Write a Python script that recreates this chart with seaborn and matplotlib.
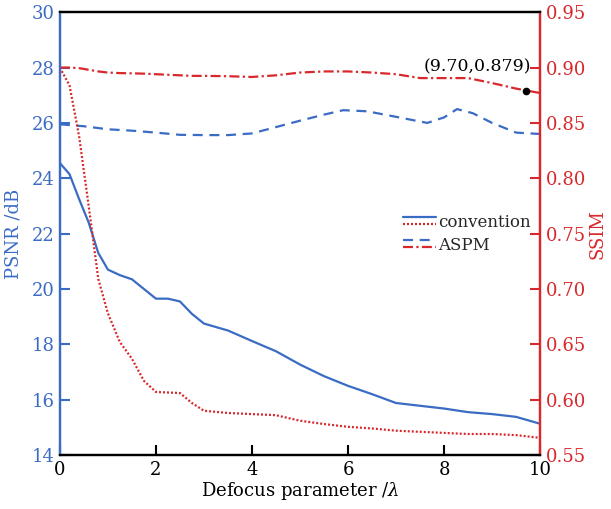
import numpy as np
import pandas as pd
import matplotlib
matplotlib.use("Agg")
import matplotlib.pyplot as plt
from matplotlib.lines import Line2D
from matplotlib.legend_handler import HandlerBase
import seaborn as sns

# Defocus parameter grid shared by three of the curves
defocus = [0, 0.2, 0.4, 0.6, 0.8, 1.0, 1.25, 1.5, 1.75, 2.0, 2.25, 2.5, 2.75, 3.0,
           3.5, 4.0, 4.5, 5.0, 5.5, 6.0, 6.5, 7.0, 7.5, 8.0, 8.5, 9.0, 9.5, 10.0]

psnr_convention = [24.55, 24.15, 23.25, 22.4, 21.3, 20.7, 20.5, 20.35, 20.0, 19.65,
                   19.65, 19.55, 19.1, 18.75, 18.5, 18.12, 17.75, 17.27, 16.85, 16.5,
                   16.2, 15.88, 15.78, 15.68, 15.55, 15.48, 15.38, 15.13]

ssim_convention = [0.900, 0.884, 0.838, 0.775, 0.709, 0.678, 0.652, 0.637, 0.617, 0.607,
                   0.6065, 0.606, 0.597, 0.590, 0.588, 0.587, 0.586, 0.581, 0.578, 0.5755,
                   0.574, 0.572, 0.571, 0.570, 0.569, 0.569, 0.568, 0.5655]

ssim_aspm = [0.900, 0.900, 0.8995, 0.898, 0.8965, 0.8955, 0.895, 0.8948, 0.8945, 0.894,
             0.8935, 0.893, 0.8925, 0.8925, 0.8922, 0.8915, 0.893, 0.8955, 0.8965, 0.8965,
             0.8955, 0.894, 0.8905, 0.8905, 0.8905, 0.886, 0.881, 0.877]

defocus_aspm_psnr = [0, 0.5, 1.0, 1.5, 2.0, 2.5, 3.0, 3.5, 4.0, 4.5, 5.0, 5.5, 5.9, 6.4,
                     7.0, 7.65, 8.0, 8.27, 8.6, 9.0, 9.5, 10.0]
psnr_aspm = [25.95, 25.88, 25.77, 25.72, 25.65, 25.57, 25.56, 25.56, 25.62, 25.85, 26.08,
             26.3, 26.46, 26.42, 26.22, 26.0, 26.2, 26.5, 26.35, 26.0, 25.65, 25.6]

marker_point = (9.70, 0.879)

BLUE = "#3b6cc4"
RED = "#d9282c"

sns.set_style("ticks")
plt.rcParams["font.family"] = ["DejaVu Serif"]
plt.rcParams["mathtext.fontset"] = "dejavuserif"

fig = plt.figure(figsize=(6.11, 5.09), dpi=100)
ax = fig.add_axes([0.098, 0.106, 0.786, 0.870])
ax2 = ax.twinx()

lw = 1.6
l_conv_p = sns.lineplot(x=defocus, y=psnr_convention, ax=ax, color=BLUE, lw=lw).lines[-1]
l_aspm_p = sns.lineplot(x=defocus_aspm_psnr, y=psnr_aspm, ax=ax, color=BLUE, lw=lw).lines[-1]
l_aspm_p.set_dashes((4.5, 3))
l_conv_s = sns.lineplot(x=defocus, y=ssim_convention, ax=ax2, color=RED, lw=lw).lines[-1]
l_conv_s.set_dashes((0.9, 0.9))
l_aspm_s = sns.lineplot(x=defocus, y=ssim_aspm, ax=ax2, color=RED, lw=lw).lines[-1]
l_aspm_s.set_dashes((4.5, 1.5, 1, 1.5))

ax2.plot([marker_point[0]], [marker_point[1]], "o", color="black", ms=4.5, zorder=5)
ax2.annotate(f"({marker_point[0]:.2f},{marker_point[1]:.3f})", xy=marker_point,
             xytext=(4, 11), textcoords="offset points", ha="right", va="bottom",
             fontsize=12.5, color="black")

ax.set_xlim(0, 10)
ax.set_ylim(14, 30)
ax2.set_ylim(0.55, 0.95)
ax.set_xticks([0, 2, 4, 6, 8, 10])
ax.set_yticks(np.arange(14, 31, 2))
ax2.set_yticks(np.round(np.arange(0.55, 0.951, 0.05), 2))
ax2.set_yticklabels([f"{v:.2f}" for v in np.arange(0.55, 0.951, 0.05)])

fs = 13
ax.tick_params(axis="x", direction="in", length=7, width=1.5, colors="black",
               labelsize=fs, pad=4)
ax.tick_params(axis="y", direction="in", length=7, width=1.5, colors=BLUE,
               labelsize=fs, pad=4)
ax2.tick_params(axis="y", direction="in", length=7, width=1.5, colors=RED,
                labelsize=fs, pad=4)

for a in (ax, ax2):
    for s in a.spines.values():
        s.set_linewidth(1.6)
    a.spines["top"].set_color("black")
    a.spines["bottom"].set_color("black")
    a.spines["left"].set_color(BLUE)
    a.spines["right"].set_color(RED)

ax.set_xlabel("Defocus parameter /$\\lambda$", fontsize=fs, color="black", labelpad=1)
ax.set_ylabel("PSNR /dB", fontsize=fs, color=BLUE, labelpad=6)
ax2.set_ylabel("SSIM", fontsize=fs, color=RED, labelpad=2)


class StackedPair(HandlerBase):
    """Draw a (PSNR line, SSIM line) pair as two stacked short strokes."""

    def create_artists(self, legend, orig_handle, xdescent, ydescent, width,
                       height, fontsize, trans):
        arts = []
        for h, frac in zip(orig_handle, (0.8, 0.2)):
            y = -ydescent + height * frac
            ln = Line2D([-xdescent, -xdescent + width], [y, y])
            ln.update_from(h)
            ln.set_transform(trans)
            arts.append(ln)
        return arts


ax2.legend([(l_conv_p, l_conv_s), (l_aspm_p, l_aspm_s)], ["convention", "ASPM"],
           handler_map={tuple: StackedPair()}, loc="center left",
           bbox_to_anchor=(0.683, 0.50), frameon=False, fontsize=12,
           handlelength=2.0, handletextpad=0.1, labelspacing=0.35)

fig.savefig("out.png", dpi=100)
